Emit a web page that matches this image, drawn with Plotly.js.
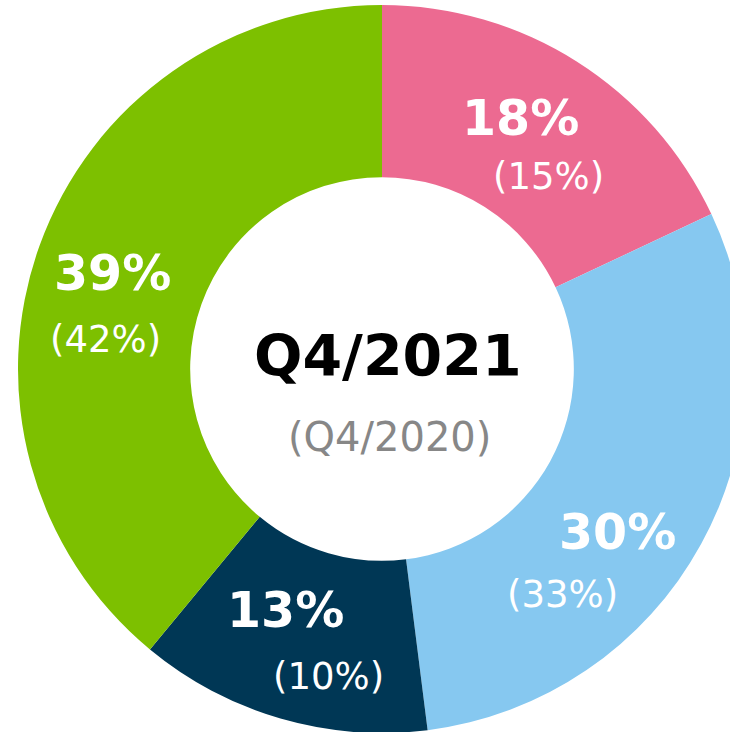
<!DOCTYPE html>
<html>
<head>
<meta charset="utf-8">
<script src="https://cdn.plot.ly/plotly-3.0.1.min.js"></script>
<style>html,body{margin:0;padding:0;overflow:hidden;background:#fff;}</style>
</head>
<body>
<div id="chart"></div>
<script>
const categories = ["Segment A", "Segment B", "Segment C", "Segment D"];
const currentShare = [18, 30, 13, 39];   // Q4/2021
const previousShare = [15, 33, 10, 42];  // Q4/2020
const colors = ["#EC6A91", "#86C8F0", "#003755", "#7DC000"];
const centerTitle = "Q4/2021";
const centerSub = "(Q4/2020)";

// label placement (pixels in page) — layout only
const boldPos = [[520,118],[617,532],[285,610],[112,273]];
const subPos  = [[548,176],[562,594],[328,676],[105,340]];

const L = 18, T = 5, S = 728;
const px = (x) => (x - L) / S;
const py = (y) => 1 - (y - T) / S;

const annotations = [];
currentShare.forEach((v, i) => {
  annotations.push({text: "<b>" + v + "%</b>", x: px(boldPos[i][0]), y: py(boldPos[i][1]),
    xref: "paper", yref: "paper", showarrow: false, xanchor: "center", yanchor: "middle",
    font: {family: "DejaVu Sans", size: 49, color: "#ffffff"}});
  annotations.push({text: "(" + previousShare[i] + "%)", x: px(subPos[i][0]), y: py(subPos[i][1]),
    xref: "paper", yref: "paper", showarrow: false, xanchor: "center", yanchor: "middle",
    font: {family: "DejaVu Sans", size: 37, color: "#ffffff"}});
});
annotations.push({text: "<b>" + centerTitle + "</b>", x: px(388), y: py(356), xref: "paper", yref: "paper",
  showarrow: false, xanchor: "center", yanchor: "middle", font: {family: "DejaVu Sans", size: 57, color: "#000000"}});
annotations.push({text: centerSub, x: px(389), y: py(437), xref: "paper", yref: "paper",
  showarrow: false, xanchor: "center", yanchor: "middle", font: {family: "DejaVu Sans", size: 40, color: "#878787"}});

Plotly.newPlot("chart", [{
  type: "pie",
  labels: categories,
  values: currentShare,
  hole: 0.527,
  sort: false,
  direction: "clockwise",
  rotation: 0,
  textinfo: "none",
  hoverinfo: "none",
  marker: {colors: colors, line: {width: 0}},
  showlegend: false
}], {
  width: L + S, height: T + S,
  margin: {l: L, t: T, r: 0, b: 0, pad: 0},
  paper_bgcolor: "#ffffff",
  annotations: annotations,
  showlegend: false
}, {displayModeBar: false, staticPlot: true});
</script>
</body>
</html>
